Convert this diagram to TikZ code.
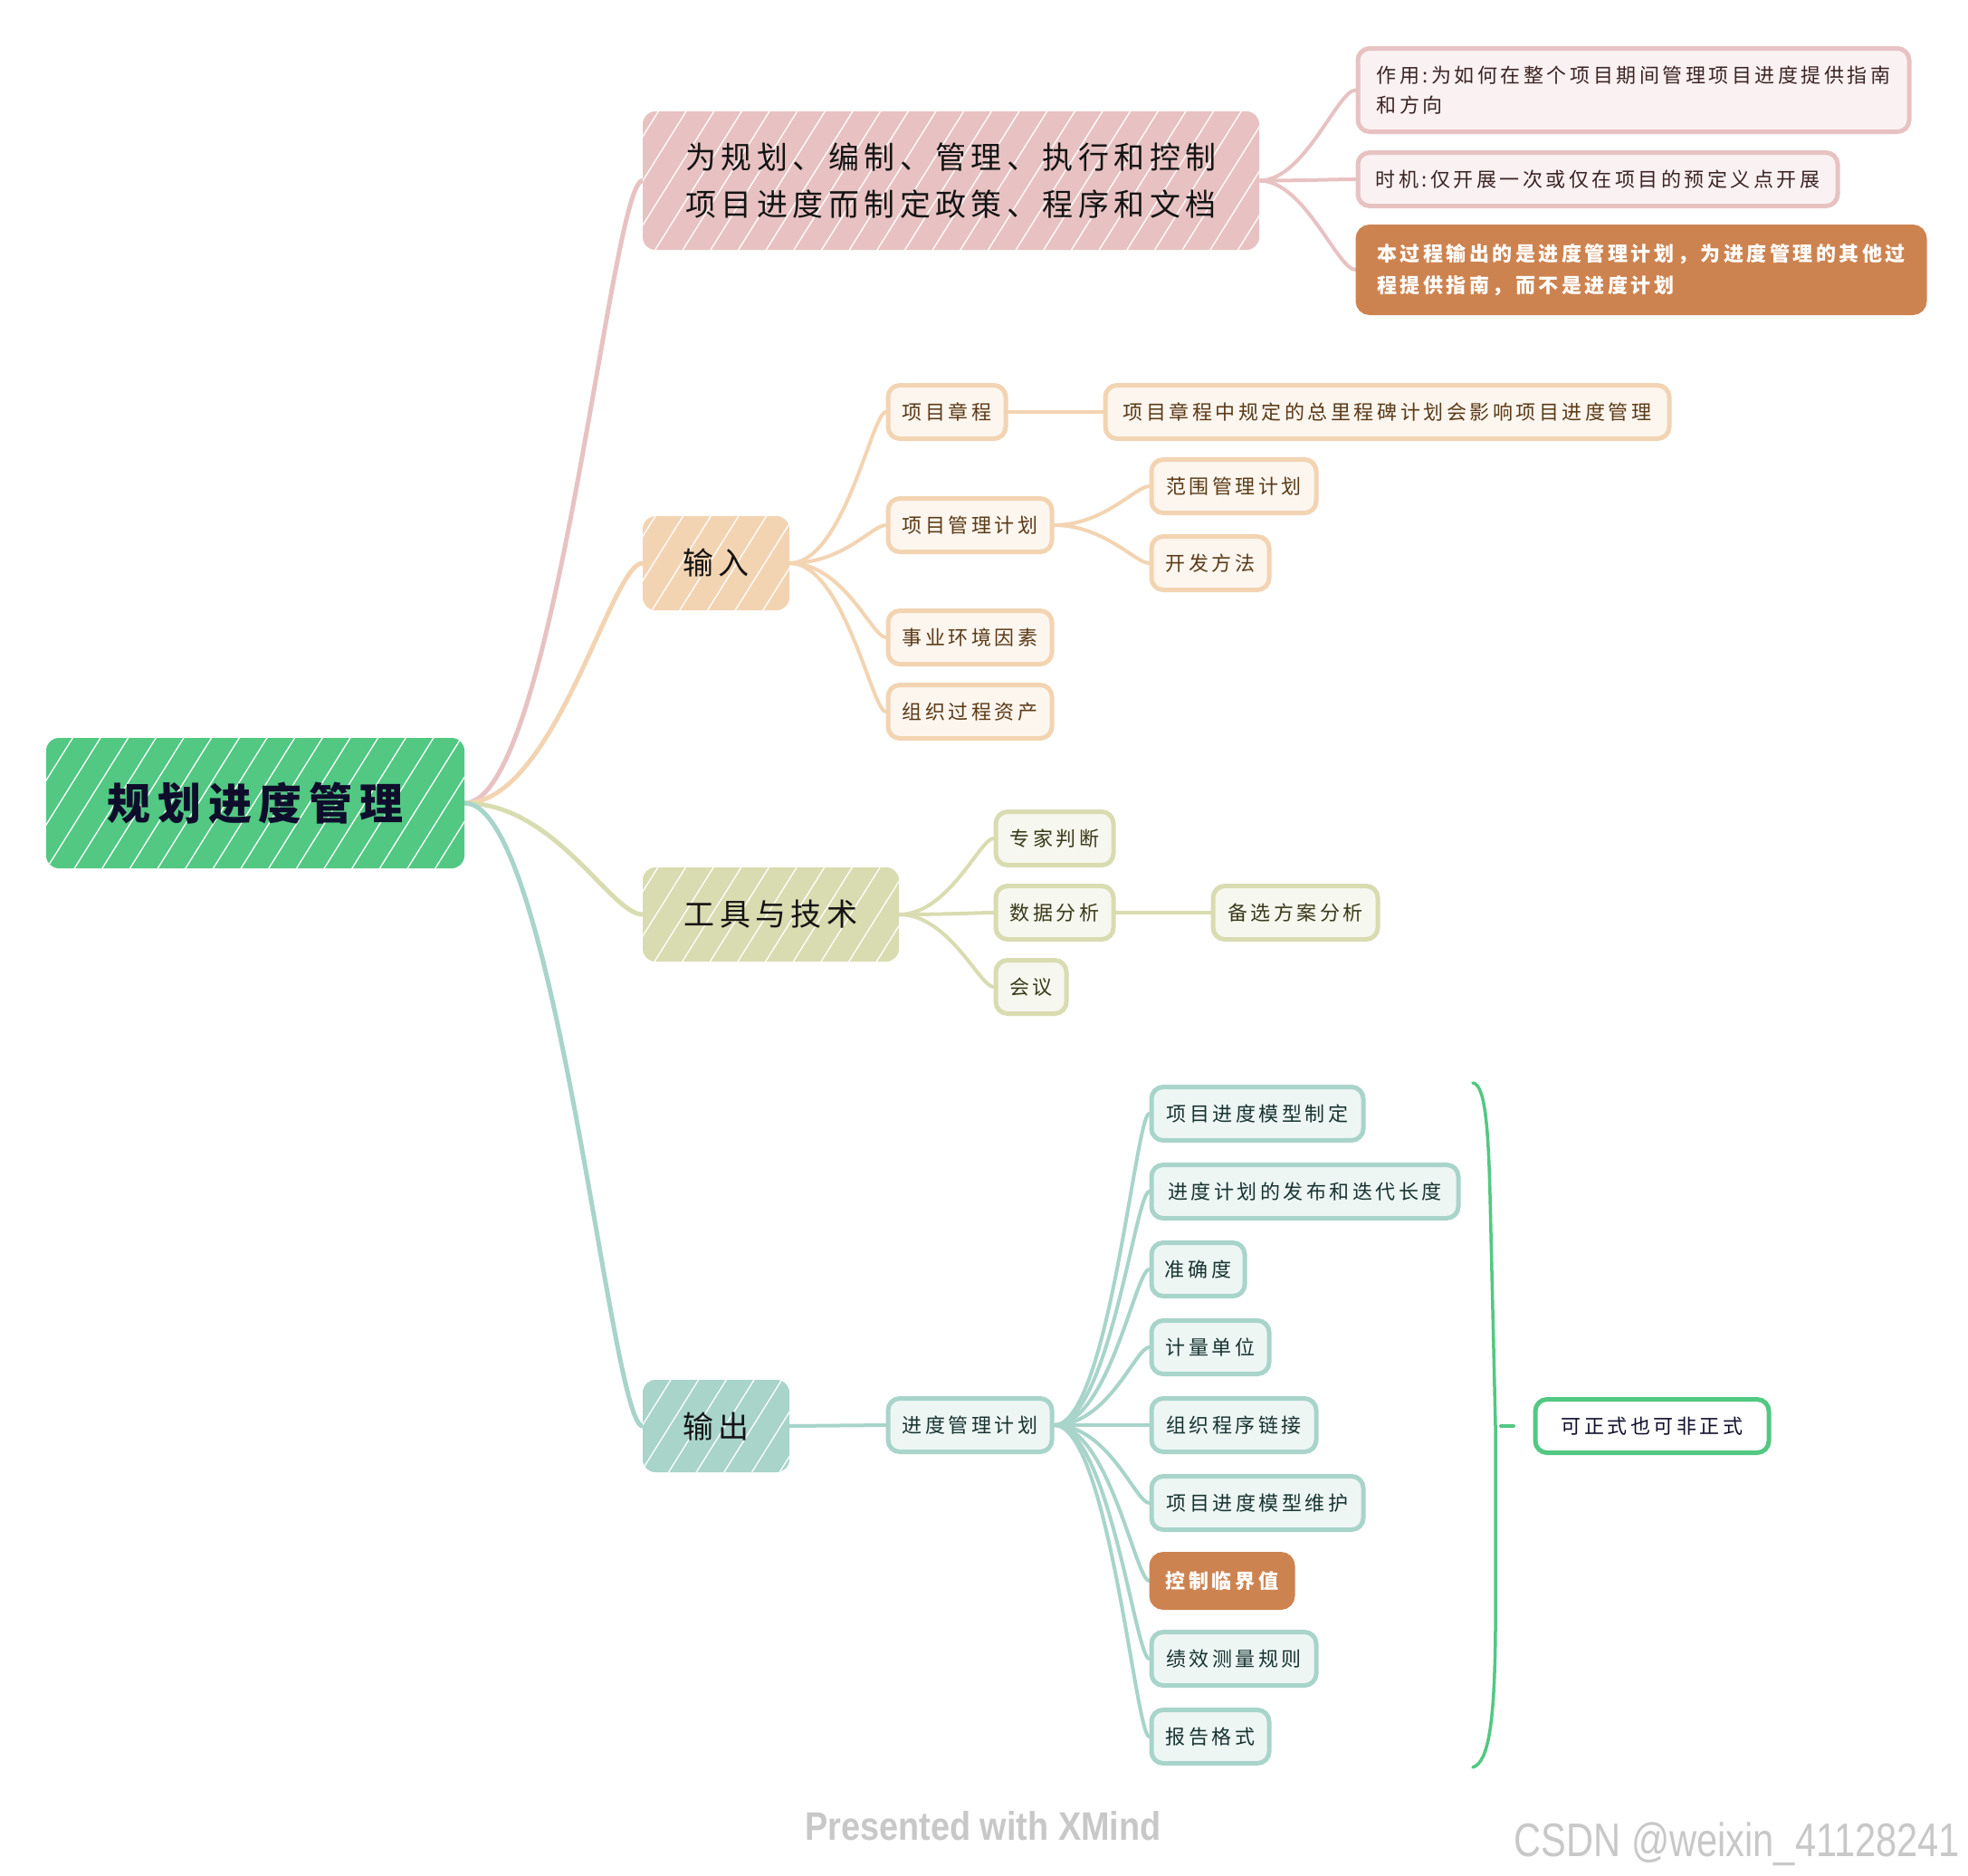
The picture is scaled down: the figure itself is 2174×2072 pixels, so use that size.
\documentclass[tikz,border=0pt]{standalone}
\usepackage{fontspec}
\usetikzlibrary{patterns.meta,backgrounds}
\newfontfamily\cjk[LetterSpace=16]{Noto Sans CJK SC}
\newfontfamily\wmfont{Liberation Sans}
\definecolor{rootg}{HTML}{52C882}
\definecolor{navy}{HTML}{0E0E2C}
\definecolor{pinkm}{HTML}{E8C2C2}
\definecolor{pinkl}{HTML}{FAF2F2}
\definecolor{pinkt}{HTML}{3C2424}
\definecolor{orng}{HTML}{CD8350}
\definecolor{peachm}{HTML}{F3D4B2}
\definecolor{peachl}{HTML}{FCF6EF}
\definecolor{peacht}{HTML}{5B3A17}
\definecolor{olivem}{HTML}{D9DCB0}
\definecolor{olivel}{HTML}{F6F7EE}
\definecolor{olivet}{HTML}{3A3A1C}
\definecolor{tealm}{HTML}{A8D4CA}
\definecolor{teall}{HTML}{EEF6F4}
\definecolor{tealt}{HTML}{173430}
\definecolor{wmgray}{HTML}{C8C8C8}
\tikzset{
  mainbox/.style={rounded corners=14pt, inner sep=0pt, align=left, text=black!92,
    font=\cjk\fontsize{34}{52}\selectfont},
  hatch/.style={postaction={pattern={Lines[angle=58,distance=26pt,line width=1.3pt]},
    pattern color=white, fill opacity=0.35}},
  cbox/.style={rounded corners=13pt, line width=5pt, inner sep=0pt, minimum height=59pt,
    anchor=west, align=left, font=\cjk\fontsize{22}{30}\selectfont},
  pk/.style={cbox, draw=pinkm, fill=pinkl, text=pinkt},
  pe/.style={cbox, draw=peachm, fill=peachl, text=peacht},
  ol/.style={cbox, draw=olivem, fill=olivel, text=olivet},
  te/.style={cbox, draw=tealm, fill=teall, text=tealt},
  og/.style={cbox, draw=orng, fill=orng, text=white, font=\cjk\bfseries\fontsize{22}{35}\selectfont},
  rcon/.style={line width=5pt, line cap=round},
  ccon/.style={line width=4pt, line cap=round},
}
\begin{document}
\begin{tikzpicture}[x=1pt,y=-1pt]
\useasboundingbox (0,0) rectangle (2174,2072);

% root
\node[mainbox, fill=rootg, hatch, minimum width=462pt, minimum height=144pt, text=navy,
  font=\cjk\bfseries\fontsize{48}{56}\selectfont] (root) at (282,887) {规划进度管理};

% main branches
\node[mainbox, fill=pinkm, hatch, minimum width=681pt, minimum height=153pt] (pm) at (1050.5,199.5)
  {为规划、编制、管理、执行和控制\\项目进度而制定政策、程序和文档};
\node[mainbox, fill=peachm, hatch, minimum width=162pt, minimum height=104pt] (inp) at (791,622) {输入};
\node[mainbox, fill=olivem, hatch, minimum width=283pt, minimum height=104pt] (tl) at (851.5,1010) {工具与技术};
\node[mainbox, fill=tealm, hatch, minimum width=162pt, minimum height=102pt] (outp) at (791,1575) {输出};

% pink children
\node[pk, minimum width=609pt, minimum height=92pt, font=\cjk\fontsize{22}{33}\selectfont] (p1) at (1497.5,99.5)
  {作用:为如何在整个项目期间管理项目进度提供指南\\和方向};
\node[pk, minimum width=530pt] (p2) at (1497.5,198) {时机:仅开展一次或仅在项目的预定义点开展};
\node[og, minimum width=626pt, minimum height=95pt] (p3) at (1497.5,298)
  {本过程输出的是进度管理计划，为进度管理的其他过\\程提供指南，而不是进度计划};

% input children
\node[pe, minimum width=130pt] (i1) at (978.5,455) {项目章程};
\node[pe, minimum width=623pt] (i1a) at (1218.5,455) {项目章程中规定的总里程碑计划会影响项目进度管理};
\node[pe, minimum width=181pt] (i2) at (978.5,580) {项目管理计划};
\node[pe, minimum width=182pt] (i2a) at (1269.5,537) {范围管理计划};
\node[pe, minimum width=130pt] (i2b) at (1269.5,622) {开发方法};
\node[pe, minimum width=181pt] (i3) at (978.5,704) {事业环境因素};
\node[pe, minimum width=181pt] (i4) at (978.5,786) {组织过程资产};

% tools children
\node[ol, minimum width=130pt] (t1) at (1097.5,926) {专家判断};
\node[ol, minimum width=130pt] (t2) at (1097.5,1008) {数据分析};
\node[ol, minimum width=182pt] (t2a) at (1337.5,1008) {备选方案分析};
\node[ol, minimum width=78pt] (t3) at (1097.5,1090) {会议};

% output children
\node[te, minimum width=181pt] (o1) at (978.5,1574) {进度管理计划};
\node[te, minimum width=234pt] (oa) at (1269.5,1230) {项目进度模型制定};
\node[te, minimum width=339pt] (ob) at (1269.5,1316) {进度计划的发布和迭代长度};
\node[te, minimum width=103pt] (oc) at (1269.5,1402) {准确度};
\node[te, minimum width=130pt] (od) at (1269.5,1488) {计量单位};
\node[te, minimum width=182pt] (oe) at (1269.5,1574) {组织程序链接};
\node[te, minimum width=234pt] (of) at (1269.5,1660) {项目进度模型维护};
\node[og, minimum width=156pt] (og) at (1269.5,1746) {控制临界值};
\node[te, minimum width=182pt] (oh) at (1269.5,1832) {绩效测量规则};
\node[te, minimum width=130pt] (oi) at (1269.5,1918) {报告格式};

% summary
\node[cbox, draw=rootg, fill=white, text=navy, minimum width=258pt] (sm) at (1693.5,1575) {可正式也可非正式};
\coordinate (bt) at (1627,1196);
\coordinate (bb) at (1627,1952);
\coordinate (tk1) at (1658,1575);
\coordinate (tk2) at (1672,1575);
\draw[rootg, line width=3.5pt, line cap=round] (bt) .. controls (1640,1198) and (1644,1240) .. (1646,1320)
  -- (1652,1575) -- (1652,1800) .. controls (1651,1900) and (1645,1946) .. (bb);
\draw[rootg, line width=4pt, line cap=round] (tk1) -- (tk2);

% watermark texts
\node[text=wmgray, font=\wmfont\bfseries\fontsize{44}{50}\selectfont, xscale=0.86, transform shape] (wm1) at (1086,2017) {Presented with XMind};
\node[text=wmgray, font=\wmfont\fontsize{52}{58}\selectfont, xscale=0.8, transform shape] (wm2) at (1919,2037) {CSDN @weixin\_41128241};

\begin{scope}[on background layer]
\fill[white] (0,0) rectangle (2174,2072);
\draw[rcon, pinkm] (root.east) .. controls +(100,0) and +(-35,0) .. (pm.west);
\draw[rcon, peachm] (root.east) .. controls +(100,0) and +(-35,0) .. (inp.west);
\draw[rcon, olivem] (root.east) .. controls +(100,0) and +(-35,0) .. (tl.west);
\draw[rcon, tealm] (root.east) .. controls +(100,0) and +(-35,0) .. (outp.west);

\foreach \c in {p1,p2,p3}
  \draw[ccon, pinkm] (pm.east) .. controls +(50,0) and +(-20,0) .. (\c.west);
\foreach \c in {i1,i2,i3,i4}
  \draw[ccon, peachm] (inp.east) .. controls +(60,0) and +(-15,0) .. (\c.west);
\draw[ccon, peachm] (i1.east) -- (i1a.west);
\foreach \c in {i2a,i2b}
  \draw[ccon, peachm] (i2.east) .. controls +(55,0) and +(-15,0) .. (\c.west);
\foreach \c in {t1,t2,t3}
  \draw[ccon, olivem] (tl.east) .. controls +(55,0) and +(-15,0) .. (\c.west);
\draw[ccon, olivem] (t2.east) -- (t2a.west);
\draw[ccon, tealm] (outp.east) -- (o1.west);
\foreach \c in {oa,ob,oc,od,oe,of,og,oh,oi}
  \draw[ccon, tealm] (o1.east) .. controls +(60,0) and +(-15,0) .. (\c.west);
\end{scope}
\end{tikzpicture}
\end{document}
